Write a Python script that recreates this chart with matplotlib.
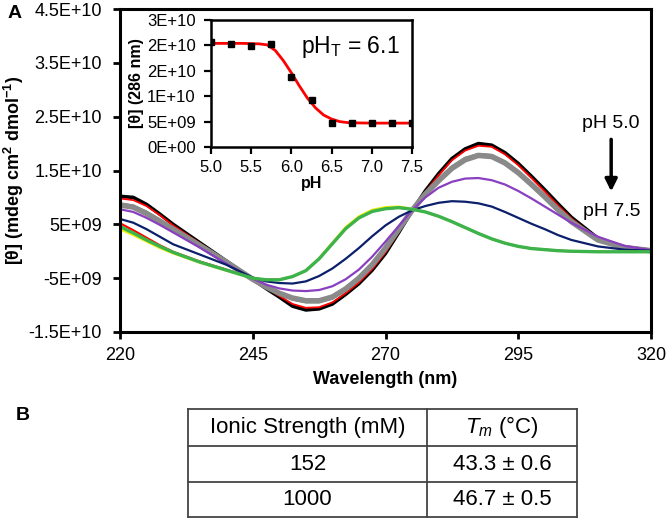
import matplotlib.pyplot as plt

plt.rcParams['font.family'] = ['Liberation Sans', 'DejaVu Sans']
plt.rcParams['mathtext.fontset'] = 'custom'
plt.rcParams['mathtext.rm'] = 'Liberation Sans'
plt.rcParams['mathtext.it'] = 'Liberation Sans:italic'
plt.rcParams['mathtext.bf'] = 'Liberation Sans:bold'

# CD spectra, values in units of 1E+09 mdeg cm2 dmol-1
wl = [220, 222.5, 225, 227.5, 230, 235, 240, 245, 247.5, 250, 252.5, 255, 257.5, 260,
      262.5, 265, 267.5, 270, 272.5, 275, 277.5, 280, 282.5, 285, 287.5, 290, 292.5,
      295, 297.5, 300, 302.5, 305, 310, 315, 320]

cd_black = [10.2, 10.0, 8.7, 6.9, 5.0, 1.6, -1.8, -5.2, -6.9, -8.5, -10.2, -10.9, -10.7, -9.8,
            -8.0, -6.0, -3.5, -0.4, 3.5, 7.5, 11.2, 14.4, 17.2, 19.0, 20.0, 19.7, 18.3,
            16.3, 13.9, 11.4, 8.8, 6.3, 2.4, 0.8, 0.2]
cd_red = [9.8, 9.5, 8.4, 6.7, 4.8, 1.5, -1.9, -5.2, -6.8, -8.3, -9.8, -10.5, -10.4, -9.5,
          -7.8, -5.8, -3.3, -0.2, 3.6, 7.5, 11.0, 14.1, 16.9, 18.7, 19.6, 19.4, 18.0,
          16.0, 13.6, 11.1, 8.5, 6.1, 2.3, 0.7, 0.1]
cd_green_thin = [8.9, 8.5, 7.4, 5.9, 4.3, 1.2, -2.0, -5.2, -6.7, -8.0, -9.0, -9.5, -9.5, -8.8,
                 -7.3, -5.3, -2.8, 0.4, 4.0, 7.6, 10.8, 13.4, 15.8, 17.4, 18.1, 17.9, 16.7,
                 14.9, 12.7, 10.3, 7.9, 5.6, 2.2, 0.7, 0.1]
cd_gray = [8.6, 8.2, 7.0, 5.6, 4.1, 1.1, -2.0, -5.2, -6.6, -7.8, -8.7, -9.2, -9.2, -8.5,
           -7.0, -5.0, -2.5, 0.6, 4.1, 7.6, 10.6, 13.1, 15.4, 17.0, 17.8, 17.6, 16.4,
           14.6, 12.4, 10.1, 7.7, 5.5, 2.1, 0.7, 0.1]
cd_purple = [7.8, 7.3, 6.2, 4.9, 3.5, 0.7, -2.3, -5.1, -6.2, -6.9, -7.3, -7.4, -7.2, -6.5,
             -5.2, -3.4, -1.0, 1.8, 4.7, 7.6, 10.0, 11.8, 12.9, 13.5, 13.6, 13.2, 12.4,
             11.2, 9.8, 8.3, 6.8, 5.3, 2.7, 1.0, 0.2]
cd_navy = [6.0, 5.3, 4.1, 2.7, 1.3, -0.6, -2.5, -4.9, -5.6, -5.9, -6.0, -5.6, -4.6, -3.2,
           -1.4, 0.6, 2.8, 4.8, 6.4, 7.6, 8.4, 9.0, 9.3, 9.2, 8.9, 8.3, 7.3,
           6.2, 5.1, 4.1, 3.0, 2.1, 0.9, 0.3, 0.1]
cd_red2 = [5.2, 3.9, 2.5, 1.1, -0.1, -1.9, -3.4, -5.0, -5.3, -5.3, -4.7, -3.6, -1.4, 1.4,
           4.2, 6.2, 7.4, 7.9, 8.1, 7.8, 7.3, 6.5, 5.5, 4.4, 3.3, 2.3, 1.5,
           0.9, 0.5, 0.3, 0.1, 0.0, -0.1, -0.1, -0.1]
cd_yellow = [4.1, 3.0, 1.8, 0.6, -0.4, -2.1, -3.6, -5.0, -5.3, -5.3, -4.7, -3.6, -1.3, 1.6,
             4.5, 6.5, 7.7, 8.2, 8.3, 7.9, 7.3, 6.5, 5.5, 4.4, 3.3, 2.3, 1.5,
             0.9, 0.5, 0.3, 0.1, 0.0, -0.1, -0.1, -0.1]
cd_green = [4.6, 3.4, 2.1, 0.9, -0.2, -2.0, -3.5, -5.0, -5.3, -5.3, -4.7, -3.6, -1.4, 1.4,
            4.2, 6.2, 7.4, 7.9, 8.1, 7.8, 7.3, 6.5, 5.5, 4.4, 3.3, 2.3, 1.5,
            0.9, 0.5, 0.3, 0.1, 0.0, -0.1, -0.1, -0.1]

main_yticks = [-15, -5, 5, 15, 25, 35, 45]
main_yticklabels = ['-1.5E+10', '-5E+09', '5E+09', '1.5E+10', '2.5E+10', '3.5E+10', '4.5E+10']
main_xticks = [220, 245, 270, 295, 320]

# inset: molar ellipticity at 286 nm vs pH (units of 1E+09)
ph = [5.0, 5.25, 5.5, 5.75, 6.0, 6.25, 6.5, 6.75, 7.0, 7.25, 7.5]
theta286 = [20.7, 20.2, 19.9, 20.2, 13.7, 9.3, 4.7, 4.8, 4.7, 4.7, 4.8]
fit_ph = [5.0, 5.2, 5.4, 5.6, 5.7, 5.8, 5.9, 6.0, 6.1, 6.2, 6.3, 6.4, 6.5, 6.6, 6.7, 6.8,
          7.0, 7.25, 7.5]
fit_theta = [20.4, 20.4, 20.4, 20.3, 20.1, 19.0, 17.0, 14.6, 12.0, 9.6, 7.7, 6.3, 5.5, 5.0,
             4.8, 4.75, 4.7, 4.7, 4.7]
inset_xticks = [5.0, 5.5, 6.0, 6.5, 7.0, 7.5]
inset_yticks = [0, 5, 10, 15, 20, 25]
inset_yticklabels = ['0E+00', '5E+09', '1E+10', '2E+10', '2E+10', '3E+10']

# table
ionic = ['152', '1000']
tm = ['43.3 ± 0.6', '46.7 ± 0.5']

fig = plt.figure(figsize=(6.66, 5.19), dpi=100)
ax = fig.add_axes([120/666, 1-332/519, 531/666, 323/519])

curves = [
    (cd_black, 'black', 2.6),
    (cd_red, '#ff0000', 1.3),
    (cd_green_thin, '#2e8b2e', 1.2),
    (cd_gray, '#8a8a8a', 4.0),
    (cd_purple, '#8a3fc0', 1.6),
    (cd_navy, '#0b1f6b', 1.6),
    (cd_red2, '#ff0000', 1.6),
    (cd_yellow, '#f0f000', 1.6),
    (cd_green, '#3cb44b', 2.4),
]
for y, c, lw in curves:
    ax.plot(wl, y, color=c, lw=lw, solid_capstyle='butt')

ax.set_xlim(220, 320)
ax.set_ylim(-15, 45)
ax.set_xticks(main_xticks)
ax.set_yticks(main_yticks)
ax.set_yticklabels(main_yticklabels)
for s in ax.spines.values():
    s.set_linewidth(2.2)
ax.tick_params(direction='out', length=5, width=2, labelsize=13)
ax.tick_params(axis='y', pad=8)
ax.tick_params(axis='x', pad=6)
ax.set_xlabel('Wavelength (nm)', fontsize=13, fontweight='bold', labelpad=5)
ax.set_ylabel(r'[θ] (mdeg cm$^{\mathbf{2}}$ dmol$^{\mathbf{-1}}$)', fontsize=13,
              fontweight='bold', labelpad=2)

ax.annotate('', xy=(312.5, 10.6), xytext=(312.5, 21.3),
            arrowprops=dict(arrowstyle='-|>', lw=2.5, color='black', mutation_scale=18))
ax.text(312.5, 23.8, 'pH 5.0', fontsize=14, ha='center', va='center')
ax.text(312.7, 7.3, 'pH 7.5', fontsize=14, ha='center', va='center')

# inset
ins = fig.add_axes([211/666, 1-147/519, 201/666, 127/519])
ins.plot(fit_ph, fit_theta, color='#ff0000', lw=2)
ins.plot(ph, theta286, 's', color='black', ms=4.5)
ins.set_xlim(5.0, 7.5)
ins.set_ylim(0, 25)
ins.set_xticks(inset_xticks)
ins.set_xticklabels([f'{v:.1f}' for v in inset_xticks])
ins.set_yticks(inset_yticks)
ins.set_yticklabels(inset_yticklabels)
for s in ins.spines.values():
    s.set_linewidth(1.8)
ins.tick_params(direction='out', length=5, width=1.6, labelsize=12)
ins.tick_params(axis='y', pad=6)
ins.tick_params(axis='x', pad=4)
ins.set_xlabel('pH', fontsize=11.5, fontweight='bold', labelpad=1)
ins.set_ylabel('[θ] (286 nm)', fontsize=11.5, fontweight='bold', labelpad=2)
ins.text(0.45, 0.74, r'pH$_\mathregular{T}$ = 6.1', transform=ins.transAxes, fontsize=16.5)

fig.text(8/666, 1-13/519, 'A', fontsize=14, fontweight='bold', va='center')
fig.text(16/666, 1-415/519, 'B', fontsize=14, fontweight='bold', va='center')

# table B
tab = fig.add_axes([188/666, 1-517/519, 389/666, 108/519])
tab.set_xlim(0, 1)
tab.set_ylim(0, 1)
tab.axis('off')
lc = '#444444'
col_split = (427-188)/389
row_lines = [1, (517-446)/108, (517-482)/108, 0]
for r in row_lines:
    tab.plot([0, 1], [r, r], color=lc, lw=1.3, clip_on=False)
for c in [0, col_split, 1]:
    tab.plot([c, c], [0, 1], color=lc, lw=1.3, clip_on=False)
c1 = col_split/2
c2 = (col_split+1)/2
rows_y = [(row_lines[i]+row_lines[i+1])/2 for i in range(3)]
tab.text(c1, rows_y[0], 'Ionic Strength (mM)', fontsize=16, ha='center', va='center')
tab.text(c2, rows_y[0], r'$T_m$ (°C)', fontsize=16, ha='center', va='center')
for i in range(2):
    tab.text(c1, rows_y[i+1], ionic[i], fontsize=16, ha='center', va='center')
    tab.text(c2, rows_y[i+1], tm[i], fontsize=16, ha='center', va='center')

fig.savefig('out.png', dpi=100)
